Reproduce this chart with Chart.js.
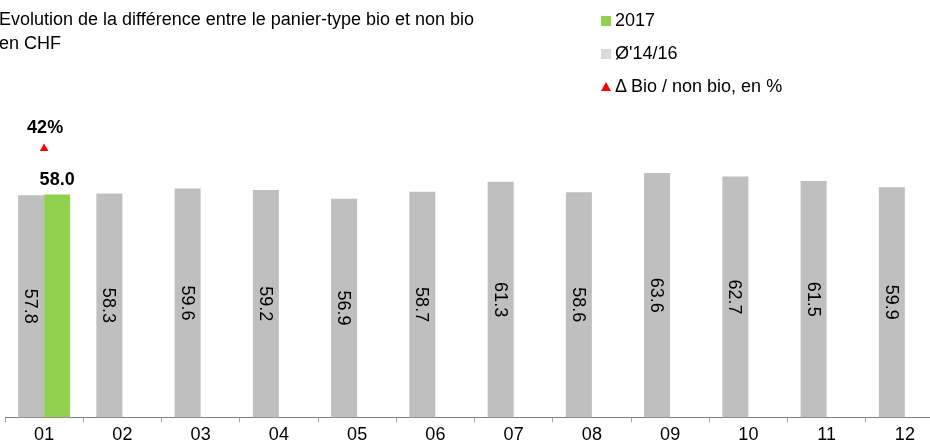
<!DOCTYPE html>
<html>
<head>
<meta charset="utf-8">
<script src="https://cdn.jsdelivr.net/npm/chart.js@4"></script>
<style>
  html, body { margin: 0; padding: 0; background: #fff; }
  body { width: 930px; height: 443px; overflow: hidden; position: relative; font-family: "Liberation Sans", Arial, sans-serif; color: #000; }
  #wrap { position: absolute; left: 0; top: 0; width: 950px; height: 448px; }
  #title { position: absolute; left: -1px; top: 7px; font-size: 18px; line-height: 24px; white-space: nowrap; }
  #legend { position: absolute; left: 601px; top: 4px; font-size: 18px; }
  .lg-row { height: 33px; display: flex; align-items: center; }
  .sw { width: 10px; height: 10px; margin-right: 4px; display: inline-block; }
  .tri { width: 10px; height: 9px; margin-right: 4px; display: inline-block; background: #ff0000; clip-path: polygon(50% 0, 100% 100%, 0 100%); }
</style>
</head>
<body>
<div id="wrap"><canvas id="chart" width="950" height="448"></canvas></div>
<div id="title">Evolution de la différence entre le panier-type bio et non bio<br>en CHF</div>
<div id="legend"></div>
<script>
// data
const months   = ['01','02','03','04','05','06','07','08','09','10','11','12'];
const avg1416  = [57.8, 58.3, 59.6, 59.2, 56.9, 58.7, 61.3, 58.6, 63.6, 62.7, 61.5, 59.9];
const y2017    = [58.0, null, null, null, null, null, null, null, null, null, null, null];
const deltaPct = [42, null, null, null, null, null, null, null, null, null, null, null];

const GREY  = '#bfbfbf';
const GREEN = '#92d050';
const RED   = '#ff0000';
const FONT  = '"Liberation Sans", Arial, sans-serif';

// legend (html, order as in the source)
const legendEl = document.getElementById('legend');
legendEl.innerHTML =
  `<div class="lg-row"><span class="sw" style="background:${GREEN}"></span>2017</div>` +
  `<div class="lg-row"><span class="sw" style="background:#d9d9d9"></span>Ø'14/16</div>` +
  `<div class="lg-row"><span class="tri"></span>Δ Bio / non bio, en %</div>`;

// value labels: rotated inside grey bars, bold on top of green bar and triangle
const valueLabels = {
  id: 'valueLabels',
  afterDatasetsDraw(chart) {
    const ctx = chart.ctx;
    ctx.save();
    ctx.fillStyle = '#000';
    ctx.textAlign = 'center';
    ctx.textBaseline = 'middle';

    ctx.font = `18px ${FONT}`;
    chart.getDatasetMeta(0).data.forEach((bar, i) => {
      if (avg1416[i] == null) return;
      ctx.save();
      ctx.translate(bar.x, (bar.y + bar.base) / 2);
      ctx.rotate(Math.PI / 2);
      ctx.fillText(avg1416[i].toFixed(1), 0, 1);
      ctx.restore();
    });

    ctx.font = `bold 18px ${FONT}`;
    chart.getDatasetMeta(1).data.forEach((bar, i) => {
      if (y2017[i] == null) return;
      ctx.fillText(y2017[i].toFixed(1), bar.x, bar.y - 15);
    });

    chart.getDatasetMeta(2).data.forEach((pt, i) => {
      if (deltaPct[i] == null) return;
      ctx.fillText(deltaPct[i] + '%', pt.x + 1, pt.y - 20);
    });
    ctx.restore();
  }
};

new Chart(document.getElementById('chart'), {
  data: {
    labels: months,
    datasets: [
      { type: 'bar', label: "Ø'14/16", data: avg1416, backgroundColor: GREY, yAxisID: 'y', order: 2 },
      { type: 'bar', label: '2017', data: y2017, backgroundColor: GREEN, yAxisID: 'y', order: 2 },
      { type: 'line', label: 'Δ Bio / non bio, en %', data: deltaPct, yAxisID: 'y2', showLine: false,
        pointStyle: 'triangle', pointRadius: 5, backgroundColor: RED, borderColor: RED, borderWidth: 0, order: 1 }
    ]
  },
  options: {
    responsive: false,
    animation: false,
    layout: { padding: { left: 4, right: 6, top: 110, bottom: 0 } },
    datasets: { bar: { barPercentage: 1, categoryPercentage: 0.665 } },
    plugins: { legend: { display: false }, tooltip: { enabled: false } },
    scales: {
      x: {
        grid: { drawOnChartArea: false, drawTicks: true, tickLength: 5, color: '#a6a6a6', offset: true },
        border: { color: '#808080', width: 1 },
        ticks: { color: '#000', font: { family: FONT, size: 18 }, padding: 2 }
      },
      y: { display: false, min: 0, max: 80 },
      y2: { display: false, min: 0, max: 48 }
    }
  },
  plugins: [valueLabels]
});
</script>
</body>
</html>
